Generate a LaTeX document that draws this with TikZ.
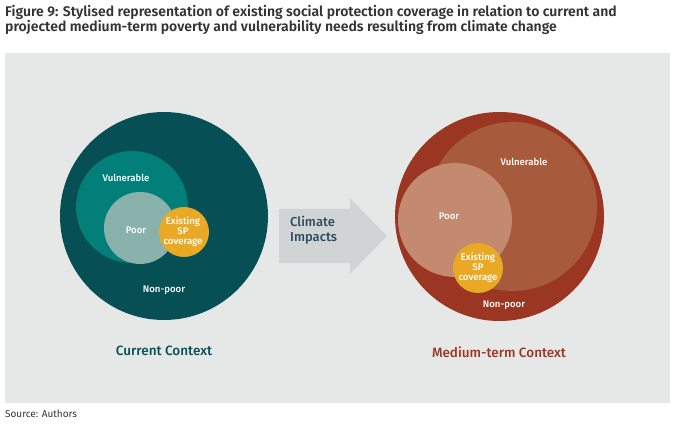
\documentclass[tikz,border=0pt]{standalone}
\usepackage{fontspec}
\setmainfont{Fira Sans}[BoldFont={Fira Sans SemiBold}]
\newfontfamily\medfont{Fira Sans Medium}
\usetikzlibrary{positioning}
\definecolor{panelgray}{HTML}{E6E8E7}
\definecolor{titlegray}{HTML}{333333}
\definecolor{tealdark}{HTML}{064F55}
\definecolor{tealmid}{HTML}{027F78}
\definecolor{teallight}{HTML}{8AB2AD}
\definecolor{spgold}{HTML}{EAA924}
\definecolor{rustdark}{HTML}{9A3621}
\definecolor{rustmid}{HTML}{A85A3C}
\definecolor{rustlight}{HTML}{C48A70}
\definecolor{arrowgray}{HTML}{D0D4D5}
\definecolor{arrowtext}{HTML}{2D4A5A}
\tikzset{
  disc/.style = {circle, inner sep=0pt, minimum size=#1},
  inlabel/.style = {text=white, font=\medfont\fontsize{9.6}{9.8}\selectfont, align=center, inner sep=0pt},
  ctxlabel/.style = {font=\medfont\fontsize{13.5}{15}\selectfont, inner sep=0pt}
}

\begin{document}
\begin{tikzpicture}[x=1pt, y=-1pt]
\useasboundingbox (0,0) rectangle (688,427);
% title and panel
\node[anchor=west, text=titlegray, font=\fontsize{14}{15}\selectfont\bfseries, align=left, inner sep=0pt] (title) at (5,19.5)
  {Figure 9: Stylised representation of existing social protection coverage in relation to current and\\
   projected medium-term poverty and vulnerability needs resulting from climate change};
\fill[panelgray] (5,53) rectangle (670,403);
\node[anchor=west, text=titlegray, font=\fontsize{10}{12}\selectfont, inner sep=0pt] (source) at (5,414) {Source: Authors};

% current context
\node[disc=208, fill=tealdark] (nonpoorCur) at (164,216) {};
\node[disc=112, fill=tealmid] (vulCur) at (132,207) {};
\node[disc=72, fill=teallight] (poorCur) at (140,228) {};
\node[disc=50, fill=spgold] (spCur) at (184,232) {};
\node[inlabel] at (126,178) {Vulnerable};
\node[inlabel] at (136,230) {Poor};
\node[inlabel] at (183,232) {Existing\\SP\\coverage};
\node[inlabel] at (164,290) {Non-poor};
\node[ctxlabel, text=tealdark] (curCtx) at (164,351) {Current Context};

% climate impacts arrow
\coordinate (arrowTip) at (387,236);
\fill[arrowgray] (279,209) -- (350,209) -- (350,198) -- (arrowTip)
  -- (350,274) -- (350,263) -- (279,263) -- cycle;
\node[anchor=west, text=arrowtext, font=\medfont\fontsize{13}{15}\selectfont, align=left, inner sep=0pt]
  (impactText) at (290,230.5) {Climate\\Impacts};

% medium-term context
\node[disc=209, fill=rustdark] (nonpoorMed) at (499.5,216.5) {};
\node[disc=169, fill=rustmid] (vulMed) at (512.5,206.5) {};
\node[disc=114, fill=rustlight] (poorMed) at (455,220) {};
\node[disc=50, fill=spgold] (spMed) at (478,268) {};
\node[inlabel] at (524,162) {Vulnerable};
\node[inlabel] at (449,216) {Poor};
\node[inlabel] at (478,268) {Existing\\SP\\coverage};
\node[inlabel] at (504,305) {Non-poor};
\node[ctxlabel, text=rustdark] (medCtx) at (499,352) {Medium-term Context};
\end{tikzpicture}
\end{document}
